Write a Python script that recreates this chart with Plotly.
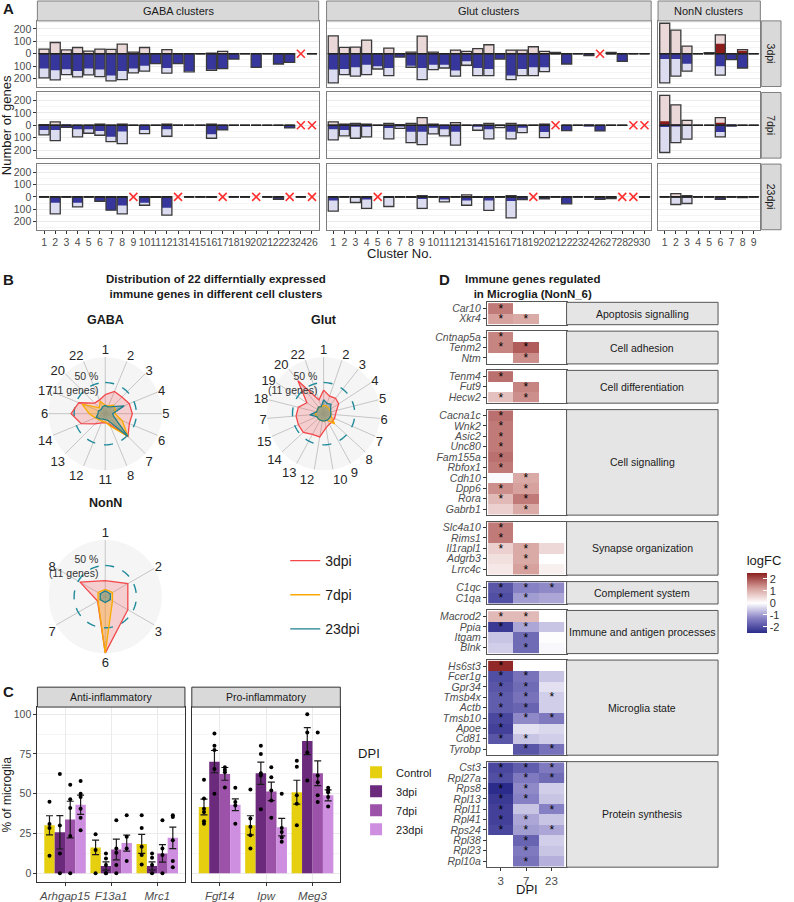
import plotly.graph_objects as go

W, H = 794, 902
FONT = "Liberation Sans, Arial, sans-serif"

# ---------------- panel A data (number of genes per cluster) ----------------
GABA_CLUSTERS = [str(i) for i in range(1, 25)] + ["26"]
GLUT_CLUSTERS = [str(i) for i in range(1, 25)] + ["26", "27", "28", "29", "30"]
NONN_CLUSTERS = [str(i) for i in range(1, 10)]
DPI_ROWS = ["3dpi", "7dpi", "23dpi"]

# None = cluster not present at that time point (red cross)
GABA_UP_ALL = {
    "3dpi": [37, 90, 30, 50, 20, 37, 35, 77, 13, 50, 0, 32, 0, 0, 0, 5, 19, 0, 0, 0, 0, 0, 0, None, 0],
    "7dpi": [5, 27, 0, 0, 0, 10, 0, 10, 0, 0, 0, 10, 0, 0, 0, 10, 0, 0, 0, 0, 0, 0, 0, None, None],
    "23dpi": [0, 0, 0, 0, 0, 0, 0, 0, None, 0, 0, 0, None, 0, 0, 0, None, 0, 0, None, 0, 0, None, 0, None],
}
GABA_UP_IMM = {
    "3dpi": [0] * 23 + [None, 0],
    "7dpi": [0] * 23 + [None, None],
    "23dpi": [0, 0, 0, 0, 0, 0, 0, 0, None, 0, 0, 0, None, 0, 0, 0, None, 0, 0, None, 0, 0, None, 0, None],
}
GABA_DN_ALL = {
    "3dpi": [195, 210, 168, 187, 170, 184, 218, 208, 155, 141, 80, 157, 80, 146, 0, 133, 120, 43, 0, 110, 0, 83, 70, None, 0],
    "7dpi": [77, 123, 16, 93, 64, 80, 131, 147, 0, 67, 0, 88, 0, 0, 0, 104, 37, 0, 0, 0, 0, 0, 21, None, None],
    "23dpi": [0, 136, 0, 80, 0, 35, 107, 136, None, 67, 3, 147, None, 0, 0, 3, None, 0, 0, None, 0, 19, None, 0, None],
}
GABA_DN_IMM = {
    "3dpi": [120, 133, 125, 140, 120, 128, 175, 139, 120, 96, 80, 115, 80, 140, 0, 128, 115, 43, 0, 110, 0, 83, 70, None, 0],
    "7dpi": [37, 37, 16, 32, 32, 45, 93, 50, 0, 37, 0, 32, 0, 0, 0, 72, 37, 0, 0, 0, 0, 0, 21, None, None],
    "23dpi": [0, 48, 0, 48, 0, 35, 107, 69, None, 48, 3, 88, None, 0, 0, 3, None, 0, 0, None, 0, 19, None, 0, None],
}

GLUT_UP_ALL = {
    "3dpi": [144, 51, 53, 109, 0, 45, 0, 13, 141, 13, 0, 29, 19, 40, 72, 0, 29, 29, 56, 19, 10, 0, 0, 0, None, 10, 0, 0, 0],
    "7dpi": [27, 10, 16, 10, 0, 16, 5, 16, 61, 10, 0, 21, 0, 0, 16, 0, 16, 0, 0, 10, None, 0, 0, 0, 0, 0, 0, None, None],
    "23dpi": [0, 0, 0, 0, None, 0, 0, 0, 10, 0, 0, 0, 16, 0, 0, 0, 10, 0, None, 0, 0, 0, 0, 0, 0, 0, None, None, 0],
}
GLUT_UP_IMM = {
    "3dpi": [0] * 24 + [None, 0, 0, 0, 0],
    "7dpi": [0] * 20 + [None] + [0] * 6 + [None, None],
    "23dpi": [0, 0, 0, 0, None] + [0] * 13 + [None] + [0] * 7 + [None, None, 0],
}
GLUT_DN_ALL = {
    "3dpi": [235, 168, 181, 168, 123, 176, 27, 109, 208, 128, 115, 181, 93, 176, 176, 43, 208, 176, 176, 144, 0, 83, 0, 16, None, 0, 61, 0, 0],
    "7dpi": [117, 85, 104, 93, 0, 109, 24, 139, 155, 69, 85, 160, 0, 40, 109, 19, 109, 59, 0, 99, None, 43, 0, 3, 45, 0, 0, None, None],
    "23dpi": [115, 0, 45, 93, None, 77, 0, 3, 93, 0, 40, 0, 67, 3, 109, 0, 168, 21, None, 16, 0, 56, 0, 0, 19, 13, None, None, 3],
}
GLUT_DN_IMM = {
    "3dpi": [128, 123, 109, 88, 101, 115, 27, 96, 115, 88, 88, 136, 61, 115, 123, 43, 176, 123, 109, 109, 0, 83, 0, 16, None, 0, 61, 0, 0],
    "7dpi": [32, 37, 11, 11, 0, 21, 3, 51, 51, 19, 32, 51, 0, 11, 32, 0, 51, 19, 0, 53, None, 43, 0, 3, 45, 0, 0, None, None],
    "23dpi": [29, 0, 0, 21, None, 8, 0, 3, 16, 0, 21, 0, 29, 3, 29, 0, 32, 21, None, 16, 0, 56, 0, 0, 19, 13, None, None, 3],
}

NONN_UP_ALL = {"3dpi": [245, 189, 61, 0, 8, 152, 0, 32, 0], "7dpi": [240, 165, 40, 0, 0, 61, 0, 0, 0], "23dpi": [0, 27, 10, 0, 0, 0, 0, 0, 0]}
NONN_UP_IMM = {"3dpi": [0, 0, 0, 0, 8, 80, 0, 24, 0], "7dpi": [32, 5, 0, 0, 0, 21, 0, 0, 0], "23dpi": [0, 0, 0, 0, 0, 0, 0, 0, 0]}
NONN_DN_ALL = {"3dpi": [235, 181, 141, 0, 0, 173, 48, 115, 0], "7dpi": [219, 139, 112, 0, 0, 93, 5, 0, 0], "23dpi": [0, 61, 53, 0, 0, 19, 0, 5, 0]}
NONN_DN_IMM = {"3dpi": [43, 43, 80, 0, 0, 101, 48, 115, 0], "7dpi": [13, 3, 0, 0, 0, 53, 5, 0, 0], "23dpi": [0, 0, 0, 0, 0, 19, 0, 5, 0]}

# ---------------- panel B data (% of the 22 immune genes) ----------------
GABA_SPOKES = ["1", "2", "3", "4", "5", "6", "7", "8", "11", "12", "13", "14", "6", "17", "20", "22"]
GABA_RADAR = {
    "3dpi": [26, 36, 35, 40, 42, 40, 52, 11, 6, 8, 17, 40, 56, 45, 18, 18],
    "7dpi": [5, 5, 12, 10, 8, 25, 52, 15, 5, 5, 5, 10, 20, 38, 5, 15],
    "23dpi": [5, 3, 8, 29, 3, 8, 52, 3, 0, 0, 3, 8, 3, 3, 0, 3],
}
GLUT_SPOKES = ["1", "2", "3", "4", "5", "6", "7", "8", "9", "10", "12", "13", "14", "15", "7", "18", "19", "20", "22"]
GLUT_RADAR = {
    "3dpi": [35, 25, 27, 24, 15, 12, 12, 12, 12, 17, 35, 35, 43, 43, 43, 40, 28, 71, 17],
    "7dpi": [5, 5, 3, 3, 3, 3, 5, 18, 3, 3, 3, 3, 3, 3, 5, 3, 3, 5, 3],
    "23dpi": [16, 10, 12, 5, 3, 3, 3, 3, 3, 3, 3, 3, 3, 3, 16, 3, 3, 5, 3],
}
NONN_SPOKES = ["1", "2", "3", "6", "7", "8"]
NONN_RADAR = {
    "3dpi": [20, 40, 40, 100, 6, 46],
    "7dpi": [3, 5, 5, 100, 5, 5],
    "23dpi": [0, 0, 0, 0, 0, 0],
}
MID_LEVEL = 50

# ---------------- panel C data (% of microglia) ----------------
C_GENES = ["Arhgap15", "F13a1", "Mrc1", "Fgf14", "Ipw", "Meg3"]
C_DPI = ["Control", "3dpi", "7dpi", "23dpi"]
C_MEAN = {
    "Control": [30.2, 16.3, 18.5, 41.7, 30.2, 51.0],
    "3dpi": [25.8, 4.6, 4.6, 70.2, 62.9, 83.1],
    "7dpi": [33.8, 15.0, 12.5, 62.5, 51.5, 62.9],
    "23dpi": [43.1, 19.0, 22.3, 43.1, 29.0, 49.0],
}
C_SE = {
    "Control": [6.0, 4.6, 6.0, 5.0, 6.0, 7.5],
    "3dpi": [10.5, 2.6, 2.6, 7.0, 7.0, 8.5],
    "7dpi": [11.5, 6.5, 5.5, 4.0, 5.8, 7.8],
    "23dpi": [6.0, 5.0, 6.8, 3.7, 5.5, 3.5],
}
C_POINTS = {
    "Control": [[45, 31, 28.5, 11], [24.6, 14.6, 0], [36.5, 28.5, 16.7, 11.5, 5.6],
                [58.8, 47, 40.6, 38.5, 32.7, 31.2], [52.7, 34.4, 29.2, 24, 15.6], [70.8, 67, 49, 43.8, 30.2]],
    "3dpi": [[62.5, 30, 12.5, 0], [12.5, 9.4, 5.2, 0, 0], [12.5, 9.8, 5.2, 0],
             [87.9, 80.2, 77.5, 65.6, 50], [80.2, 75, 62.9, 61.5, 40.2], [100, 88.5, 76, 58.3]],
    "7dpi": [[55.6, 46.5, 41, 23.5, 0], [33.3, 15.6, 13, 5.2, 0], [33.3, 15.6, 11.5, 0],
             [66.7, 65, 63.5, 54], [66.7, 60.4, 52, 45.8, 35], [88.5, 61.5, 57.3, 49, 44.8]],
    "23dpi": [[58, 50, 48, 40.6, 35, 27], [36.5, 23, 15.6, 7.7], [36.5, 35.4, 20.8, 7.7, 3.8],
              [53.8, 44.8, 42.7, 31.2], [50, 28.5, 26, 22.5, 19.8], [53.8, 52, 51, 48, 42]],
}

# ---------------- panel D data (logFC in NonN_6) ----------------
D_GROUPS = ["Apoptosis signalling", "Cell adhesion", "Cell differentiation", "Cell signalling",
            "Synapse organization", "Complement system", "Immune and antigen processes",
            "Microglia state", "Protein synthesis"]
D_GENES = [
    ["Car10", "Xkr4"],
    ["Cntnap5a", "Tenm2", "Ntm"],
    ["Tenm4", "Fut9", "Hecw2"],
    ["Cacna1c", "Wnk2", "Asic2", "Unc80", "Fam155a", "Rbfox1", "Cdh10", "Dpp6", "Rora", "Gabrb1"],
    ["Slc4a10", "Rims1", "Il1rapl1", "Adgrb3", "Lrrc4c"],
    ["C1qc", "C1qa"],
    ["Macrod2", "Ppia", "Itgam", "Blnk"],
    ["Hs6st3", "Fcer1g", "Gpr34", "Tmsb4x", "Actb", "Tmsb10", "Apoe", "Cd81", "Tyrobp"],
    ["Cst3", "Rpl27a", "Rps8", "Rpl13", "Rpl11", "Rpl41", "Rps24", "Rpl38", "Rpl23", "Rpl10a"],
]
D_DPI = ["3", "7", "23"]
D_LFC_3 = [1.6, 1.2, 1.5, 1.5, None, 1.7, None, 0.8,
           1.7, 1.6, 1.6, 1.6, 1.7, 1.6, -0.05, 1.4, 0.9, 0.6,
           1.6, 1.6, 0.6, 0.4, 0.3, -1.9, -2.0,
           0.9, -2.3, -0.6, -0.5,
           2.4, -2.0, -1.9, -1.8, -1.8, -2.1, -2.2, -1.9, None,
           -2.1, -2.0, -2.5, -2.3, -2.2, -2.2, -2.1, None, None, None]
D_LFC_7 = [None, 1.1, None, 1.9, 1.4, None, 1.5, 1.4,
           None, None, None, None, None, None, 1.1, 1.2, 1.6, 1.1,
           None, None, 1.1, 1.1, 1.2, -1.3, -1.0,
           0.9, -0.9, -1.6, -1.6,
           None, -1.5, -1.6, -1.5, -1.7, -1.2, -0.3, -0.6, -1.9,
           -1.8, -1.4, -1.2, -1.3, -0.6, -0.9, -1.0, -1.7, -1.4, -1.5]
D_LFC_23 = [None, None, None, None, None, None, None, None,
            None, None, None, None, None, None, None, None, None, None,
            None, None, 0.5, None, 0.2, -1.2, -0.9,
            None, -0.6, -0.02, -0.08,
            None, -0.6, -0.3, -0.5, -0.5, -1.4, -0.4, -0.5, -1.5,
            -1.4, -1.6, -0.5, -0.6, -1.3, -0.6, -0.9, -0.5, -0.6, -0.8]
D_SIG_3 = [1, 1, 1, 1, 0, 1, 0, 1, 1, 1, 1, 1, 1, 1, 0, 1, 1, 0, 1, 1, 1, 0, 0, 1, 1,
           1, 1, 0, 0, 1, 1, 1, 1, 1, 1, 1, 1, 0, 1, 1, 1, 1, 1, 1, 1, 0, 0, 0]
D_SIG_7 = [0, 1, 0, 1, 1, 0, 1, 1, 0, 0, 0, 0, 0, 0, 1, 1, 1, 1, 0, 0, 1, 1, 1, 1, 1,
           1, 1, 1, 1, 0, 1, 1, 1, 1, 1, 0, 1, 1, 1, 1, 1, 1, 0, 1, 1, 1, 1, 1]
D_SIG_23 = [0, 0, 0, 0, 0, 0, 0, 0, 0, 0, 0, 0, 0, 0, 0, 0, 0, 0, 0, 0, 0, 0, 0, 1, 0,
            0, 0, 0, 0, 0, 0, 0, 1, 0, 1, 0, 0, 1, 1, 1, 0, 0, 1, 0, 1, 0, 0, 0]

# ---------------- colours ----------------
PINK_LIGHT, RED_DARK = "#ead7d7", "#8b1c1c"
LAV_LIGHT, BLUE_DARK = "#dcdcf0", "#36369c"
OUTLINE = "#3a3a3a"
RADAR_COL = {"3dpi": "#f4474a", "7dpi": "#f7aa00", "23dpi": "#1f7f8c"}
RADAR_FILL = {"3dpi": "rgba(244,71,74,0.22)", "7dpi": "rgba(247,170,0,0.30)", "23dpi": "rgba(31,127,140,0.35)"}
C_COL = {"Control": "#e6cf0e", "3dpi": "#6b2a7c", "7dpi": "#9c52a8", "23dpi": "#cf8fe0"}
D_SCALE = [[0, "#2b2b8b"], [0.25, "#8a84c6"], [0.5, "#ffffff"], [0.75, "#d59e9a"], [1, "#8b1f1f"]]

fig = go.Figure()
n_axes = [0]


def add_axes(x0, x1, y0, y1, xaxis, yaxis):
    n_axes[0] += 1
    s = "" if n_axes[0] == 1 else str(n_axes[0])
    fig.update_layout({
        "xaxis" + s: dict(domain=[x0 / W, x1 / W], anchor="y" + s, **xaxis),
        "yaxis" + s: dict(domain=[1 - y1 / H, 1 - y0 / H], anchor="x" + s, **yaxis),
    })
    return "x" + s, "y" + s


def label(x, y, s, size=12, bold=False, xanchor="center", angle=0, color="#1a1a1a", align="center"):
    fig.add_annotation(x=x / W, y=1 - y / H, xref="paper", yref="paper",
                       text="<b>%s</b>" % s if bold else s, showarrow=False,
                       xanchor=xanchor, yanchor="middle", textangle=angle, align=align,
                       font=dict(size=size, color=color))


def strip(x0, x1, y0, y1, s, angle=0, size=11, fill="#d9d9d9", line="#7f7f7f"):
    fig.add_shape(type="rect", xref="paper", yref="paper", x0=x0 / W, x1=x1 / W,
                  y0=1 - y1 / H, y1=1 - y0 / H, fillcolor=fill, line=dict(color=line, width=1))
    label((x0 + x1) / 2, (y0 + y1) / 2, s, size=size, angle=angle)


def neg(vals):
    return [None if v is None else -v for v in vals]


TICKFONT = dict(size=10.5, color="#4d4d4d")
axis_style = dict(showline=True, mirror=True, linewidth=1, zeroline=False, tickangle=0,
                  tickfont=TICKFONT, ticklen=3, tickcolor="#333")

# ================= panel A =================
A_COLS = [
    ("GABA clusters", GABA_CLUSTERS, GABA_UP_ALL, GABA_UP_IMM, GABA_DN_ALL, GABA_DN_IMM, 38, 324),
    ("Glut clusters", GLUT_CLUSTERS, GLUT_UP_ALL, GLUT_UP_IMM, GLUT_DN_ALL, GLUT_DN_IMM, 332, 662),
    ("NonN clusters", NONN_CLUSTERS, NONN_UP_ALL, NONN_UP_IMM, NONN_DN_ALL, NONN_DN_IMM, 669, 773),
]
A_ROW_Y = [(21, 87), (93, 159), (165, 231)]

for ci, (name, clusters, up_all, up_imm, dn_all, dn_imm, x0, x1) in enumerate(A_COLS):
    strip(x0, x1, 1, 21, name)
    xs = list(range(1, len(clusters) + 1))
    for ri, dpi in enumerate(DPI_ROWS):
        y0, y1 = A_ROW_Y[ri]
        xa, ya = add_axes(
            x0, x1, y0, y1,
            dict(range=[0.4, len(xs) + 0.6], tickvals=xs, ticktext=clusters, showgrid=False,
                 showticklabels=(ri == 2), ticks="outside" if ri == 2 else "",
                 linecolor="#7f7f7f", **axis_style),
            dict(range=[-264, 264], tickvals=[-200, -100, 0, 100, 200],
                 ticktext=["200", "100", "0", "100", "200"], showticklabels=(ci == 0),
                 ticks="outside" if ci == 0 else "", gridcolor="#ebebeb",
                 minor=dict(tickvals=[-250, -150, -50, 50, 150, 250], showgrid=True, gridcolor="#f5f5f5"),
                 linecolor="#7f7f7f", **axis_style),
        )
        for yv, col in [(up_all[dpi], PINK_LIGHT), (up_imm[dpi], RED_DARK),
                        (neg(dn_all[dpi]), LAV_LIGHT), (neg(dn_imm[dpi]), BLUE_DARK)]:
            fig.add_trace(go.Bar(x=xs, y=yv, width=0.9, marker=dict(color=col, line=dict(width=0)),
                                 xaxis=xa, yaxis=ya, showlegend=False, hoverinfo="skip"))
        for yv in [up_all[dpi], neg(dn_all[dpi])]:
            fig.add_trace(go.Bar(x=xs, y=yv, width=0.9,
                                 marker=dict(color="rgba(0,0,0,0)", line=dict(color=OUTLINE, width=1.3)),
                                 xaxis=xa, yaxis=ya, showlegend=False, hoverinfo="skip"))
        seg_x, seg_y, miss = [], [], []
        for x, v in zip(xs, up_all[dpi]):
            if v is None:
                miss.append(x)
            else:
                seg_x += [x - 0.45, x + 0.45, None]
                seg_y += [0, 0, None]
        fig.add_trace(go.Scatter(x=seg_x, y=seg_y, mode="lines", line=dict(color="#222", width=1.6),
                                 xaxis=xa, yaxis=ya, showlegend=False, hoverinfo="skip"))
        if miss:
            fig.add_trace(go.Scatter(x=miss, y=[0] * len(miss), mode="markers",
                                     marker=dict(symbol="x-thin", size=8, line=dict(color="#ff3030", width=1.6)),
                                     xaxis=xa, yaxis=ya, showlegend=False, hoverinfo="skip"))
        if ci == 2:
            strip(774, 794, y0, y1, dpi, angle=90, size=10.5)

label(1, 9, "A", size=15, bold=True, xanchor="left")
label(6, 126, "Number of genes", size=13, angle=-90)
label(406, 255, "Cluster No.", size=13)

# ================= panel B =================
label(1, 281, "B", size=15, bold=True, xanchor="left")
label(220, 288, "Distribution of 22 differntially expressed<br>immune genes in different cell clusters",
      size=11.5, bold=True)
R = 57.5
RADARS = [("polar", "GABA", GABA_SPOKES, GABA_RADAR, 107, 416),
          ("polar2", "Glut", GLUT_SPOKES, GLUT_RADAR, 329, 416),
          ("polar3", "NonN", NONN_SPOKES, NONN_RADAR, 107, 600)]
for key, title, spokes, vals, cx, cy in RADARS:
    n = len(spokes)
    angles = [i * 360 / n for i in range(n)]
    fig.update_layout({key: dict(
        domain=dict(x=[(cx - R) / W, (cx + R) / W], y=[1 - (cy + R) / H, 1 - (cy - R) / H]),
        bgcolor="#f5f5f5",
        radialaxis=dict(range=[-11.5, 100.2], tickvals=[100], showticklabels=False, ticks="",
                        showline=False, gridcolor="#b3b3b3", griddash="dash", gridwidth=1.3),
        angularaxis=dict(tickmode="array", tickvals=angles, ticktext=spokes, rotation=90,
                         direction="clockwise", showline=False, gridcolor="#c6c6c6", gridwidth=1.3,
                         ticks="", tickfont=dict(size=13, color="#262626")),
    )})
    label(cx, cy - 94, title, size=12.5, bold=True)
    label(cx - 5, cy - 31, "50 %<br>(11 genes)", size=10.5, xanchor="right", align="right", color="#333")
    for dpi in DPI_ROWS:
        fig.add_trace(go.Scatterpolar(r=vals[dpi] + vals[dpi][:1], theta=angles + angles[:1], mode="lines",
                                      fill="toself", fillcolor=RADAR_FILL[dpi], line=dict(color="rgba(0,0,0,0)", width=0),
                                      subplot=key, showlegend=False, hoverinfo="skip"))
    circ = list(range(0, 361, 4))
    fig.add_trace(go.Scatterpolar(r=[MID_LEVEL] * len(circ), theta=circ, mode="lines",
                                  line=dict(color="#1f8a9a", width=1.4, dash="dash"),
                                  subplot=key, showlegend=False, hoverinfo="skip"))
    for dpi in DPI_ROWS:
        fig.add_trace(go.Scatterpolar(r=vals[dpi] + vals[dpi][:1], theta=angles + angles[:1], mode="lines",
                                      line=dict(color=RADAR_COL[dpi], width=1.3), subplot=key, name=dpi,
                                      legend="legend", legendgroup=dpi, showlegend=(key == "polar3"),
                                      hoverinfo="skip"))

# ================= panel C =================
label(1, 695, "C", size=15, bold=True, xanchor="left")
C_FACETS = [("Anti-inflammatory", 0, 38, 188), ("Pro-inflammatory", 3, 195, 346)]
for fi, (fname, start, x0, x1) in enumerate(C_FACETS):
    strip(x0, x1, 691, 711, fname, size=10.5, line="#333")
    genes = C_GENES[start:start + 3]
    xa, ya = add_axes(
        x0, x1, 711, 887,
        dict(range=[0.4, 3.6], tickvals=[1, 2, 3], ticktext=["<i>%s</i>" % g for g in genes],
             showgrid=True, gridcolor="#ebebeb", ticks="outside", linecolor="#333",
             **dict(axis_style, tickfont=dict(size=11.5, color="#4d4d4d"))),
        dict(range=[-5.5, 104.5], tickvals=[0, 25, 50, 75, 100], showticklabels=(fi == 0),
             ticks="outside" if fi == 0 else "", gridcolor="#ebebeb",
             minor=dict(tickvals=[12.5, 37.5, 62.5, 87.5], showgrid=True, gridcolor="#f5f5f5"),
             linecolor="#333", **axis_style),
    )
    for k, dpi in enumerate(C_DPI):
        off = (k - 1.5) * 0.225
        bx = [g + 1 + off for g in range(3)]
        fig.add_trace(go.Bar(x=bx, y=C_MEAN[dpi][start:start + 3], width=0.225,
                             marker=dict(color=C_COL[dpi], line=dict(width=0)),
                             error_y=dict(type="data", array=C_SE[dpi][start:start + 3],
                                          color="#1a1a1a", thickness=1.2, width=3.5),
                             xaxis=xa, yaxis=ya, name=dpi, legend="legend2",
                             showlegend=(fi == 0), hoverinfo="skip"))
        px_, py_ = [], []
        for g in range(3):
            pts = C_POINTS[dpi][start + g]
            px_ += [g + 1 + off] * len(pts)
            py_ += pts
        fig.add_trace(go.Scatter(x=px_, y=py_, mode="markers", marker=dict(color="black", size=4),
                                 xaxis=xa, yaxis=ya, showlegend=False, hoverinfo="skip"))
label(7, 799, "% of microglia", size=12, angle=-90)

# ================= panel D =================
label(444, 281, "D", size=15, bold=True, xanchor="left")
label(541, 288, "Immune genes regulated<br>in Microglia (NonN_6)", size=11.5, bold=True)
ROWH, PAD, GAP = 10.45, 1.6, 6.5
cur = 304.0
gi = 0
for di, (group, genes) in enumerate(zip(D_GROUPS, D_GENES)):
    n = len(genes)
    y0, y1 = cur, cur + n * ROWH + PAD
    pp = PAD / 2 / ROWH
    last = di == len(D_GROUPS) - 1
    xa, ya = add_axes(
        495, 576, y0, y1,
        dict(range=[-0.55, 2.6], tickvals=[0, 1, 2], ticktext=D_DPI, showgrid=False,
             showticklabels=last, ticks="outside" if last else "", linecolor="#555",
             **dict(axis_style, tickfont=dict(size=11.5, color="#4d4d4d"))),
        dict(range=[n - 0.5 + pp, -0.5 - pp], tickvals=list(range(n)),
             ticktext=["<i>%s</i>" % g for g in genes], showgrid=False, ticks="outside",
             linecolor="#555", **axis_style),
    )
    rows = range(gi, gi + n)
    z = [[D_LFC_3[i], D_LFC_7[i], D_LFC_23[i]] for i in rows]
    txt = [["*" if s else "" for s in (D_SIG_3[i], D_SIG_7[i], D_SIG_23[i])] for i in rows]
    fig.add_trace(go.Heatmap(
        z=z, x=[0, 1, 2], y=list(range(n)), text=txt, texttemplate="%{text}",
        textfont=dict(size=12, color="black"), zmin=-2.5, zmax=2.5, colorscale=D_SCALE,
        showscale=(di == 0), xaxis=xa, yaxis=ya, hoverinfo="skip",
        colorbar=dict(title=dict(text="logFC", side="top", font=dict(size=13, color="#1a1a1a")),
                      x=749 / W, xanchor="left", y=1 - 596 / H, yanchor="middle",
                      len=100, lenmode="pixels", thickness=20, tickvals=[-2, -1, 0, 1, 2],
                      ticktext=["-2", "-1", "0", "1", "2"], tickfont=dict(size=11, color="#333"),
                      outlinewidth=0, ticks="inside", tickcolor="white", ticklen=4),
    ))
    strip(576, 730, y0, y1, group, size=10.5, fill="#e5e5e5", line="#555")
    gi += n
    cur = y1 + GAP
label(536, 894, "DPI", size=13)

fig.update_layout(
    width=W, height=H, margin=dict(l=0, r=0, t=0, b=0),
    paper_bgcolor="white", plot_bgcolor="white", barmode="overlay",
    font=dict(family=FONT, color="#1a1a1a"),
    legend=dict(x=290 / W, y=1 - 548 / H, xanchor="left", yanchor="top", font=dict(size=14),
                tracegroupgap=13, bgcolor="rgba(0,0,0,0)", traceorder="grouped"),
    legend2=dict(title=dict(text="DPI", font=dict(size=13)), x=362 / W, y=1 - 745 / H,
                 xanchor="left", yanchor="top", font=dict(size=11), bgcolor="rgba(0,0,0,0)"),
)

fig.write_html("out.html", config={"displayModeBar": False},
               post_script="document.body.style.margin='0px';")
